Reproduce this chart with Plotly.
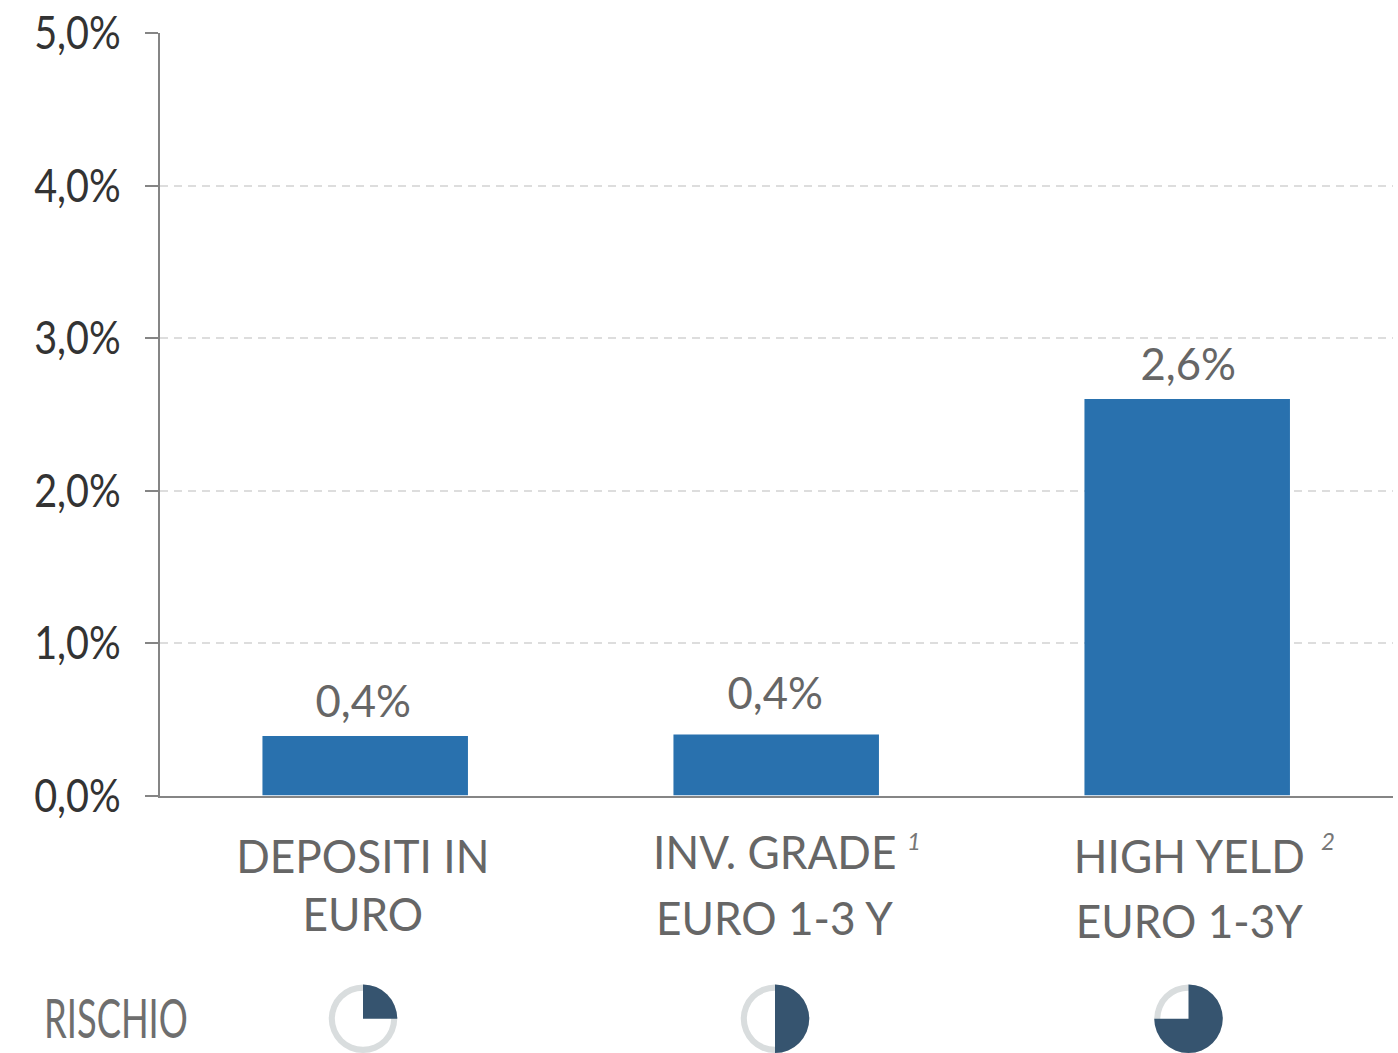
import plotly.graph_objects as go

W, H = 1398, 1053
categories = ["DEPOSITI IN EURO", "INV. GRADE EURO 1-3 Y", "HIGH YELD EURO 1-3Y"]
values = [0.39, 0.40, 2.60]
value_labels = ["0,4%", "0,4%", "2,6%"]
tick_vals = [0, 1, 2, 3, 4, 5]
tick_labels = ["0,0%", "1,0%", "2,0%", "3,0%", "4,0%", "5,0%"]
risk_share = [25, 50, 75]
risk_label = "RISCHIO"
label_lines = [("DEPOSITI IN", 363, 855), ("EURO", 363, 913),
               ("INV. GRADE", 775, 851), ("EURO 1-3 Y", 775, 917),
               ("HIGH YELD", 1189, 855), ("EURO 1-3Y", 1189, 920)]
superscripts = [("1", 914, 840), ("2", 1328, 840)]
value_label_y = [700, 692, 363]
pie_centers = [(363, 1019), (775, 1019), (1188.5, 1019)]

FONT = "Lato"
GREY = "#666666"
px = lambda x: x / W
py = lambda y: 1 - y / H

fig = go.Figure()
fig.add_trace(go.Bar(x=[0, 1, 2], y=values, width=0.5, marker=dict(color="#2971AE", line_width=0),
                     hoverinfo="skip", showlegend=False))

R = 34.5
for (cx, cy), share in zip(pie_centers, risk_share):
    dom = dict(x=[px(cx - R), px(cx + R)], y=[max(py(cy + R), 0), py(cy - R)])
    fig.add_trace(go.Pie(values=[1], hole=0.82, domain=dom, sort=False, textinfo="none",
                         marker=dict(colors=["#D9DDDE"], line_width=0), showlegend=False, hoverinfo="skip"))
    fig.add_trace(go.Pie(values=[share, 100 - share], domain=dom, sort=False, direction="clockwise",
                         textinfo="none", marker=dict(colors=["#36546F", "rgba(0,0,0,0)"], line_width=0),
                         showlegend=False, hoverinfo="skip"))

ann = []
def text(t, x, y, size, color=GREY, family=FONT):
    ann.append(dict(text=t, x=px(x), y=py(y), xref="paper", yref="paper", xanchor="center",
                    yanchor="middle", showarrow=False, font=dict(family=family, size=size, color=color)))

for t, x, y in label_lines:
    text(t, x, y, 46)
for t, x, y in superscripts:
    text(f"<i>{t}</i>", x, y, 24, color="#777777")
for t, x, y in zip(value_labels, [363, 775, 1188], value_label_y):
    text(t, x, y, 45)
text(risk_label, 116, 1017, 55, color="#6E6E6E")

fig.update_layout(
    width=W, height=H, autosize=False, margin=dict(l=0, r=0, t=0, b=0, autoexpand=False),
    paper_bgcolor="white", plot_bgcolor="white", annotations=ann, bargap=0.5,
    xaxis=dict(domain=[px(159.7), px(1392.7)], range=[-0.5, 2.5], showticklabels=False, ticks="", automargin=False,
               showgrid=False, zeroline=False, showline=True, linecolor="#858585", linewidth=2, anchor="y"),
    yaxis=dict(domain=[py(795.5), py(33)], range=[0, 5], tickvals=tick_vals, ticktext=tick_labels, automargin=False,
               ticks="outside", ticklen=13, tickwidth=1.5, tickcolor="#858585", ticklabelstandoff=15,
               tickfont=dict(family=FONT, size=46, color="#333333"),
               showline=True, linecolor="#858585", linewidth=1.5, zeroline=False,
               showgrid=True, gridcolor="#DDDDDD", griddash="8px,6px", gridwidth=1.5, anchor="x"),
)
# The reference typeface is condensed: squeeze the real text horizontally.
post = """
document.body.style.margin='0';document.documentElement.style.overflow='hidden';
const squeeze=(sel,f)=>document.querySelectorAll(sel).forEach(t=>{
  const k=f(t.textContent); if(!k) return;
  t.setAttribute('textLength',t.getComputedTextLength()*k);
  t.setAttribute('lengthAdjust','spacingAndGlyphs');});
squeeze('.ytick text',()=>0.86);
squeeze('.annotation-text',s=>s==='RISCHIO'?0.66:(s.includes('%')?0.97:(s.length>1?0.96:0)));
"""
fig.write_html("out.html", config=dict(displayModeBar=False), post_script=post)
